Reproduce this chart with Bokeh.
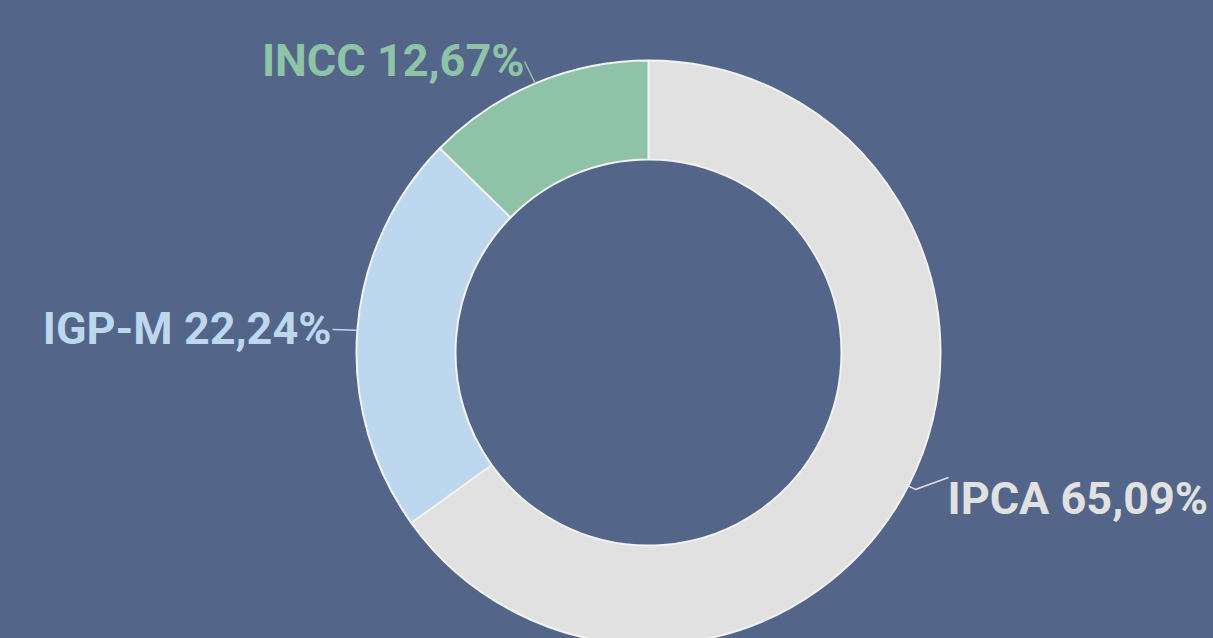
import math
from bokeh.plotting import figure
from bokeh.models import Range1d, ColumnDataSource
from bokeh.core.properties import value
from bokeh.embed import file_html
from bokeh.resources import INLINE

labels = ["IPCA", "IGP-M", "INCC"]
values = [65.09, 22.24, 12.67]
colors = ["#E1E1E1", "#BDD7EE", "#8FC3A8"]

W, H = 1213, 638
BG = "#536689"
cx, cy = 648, H - 352
r_out, r_in = 292, 193

p = figure(width=W, height=H, output_backend="svg", toolbar_location=None,
           x_range=Range1d(0, W), y_range=Range1d(0, H), min_border=0,
           background_fill_color=BG, border_fill_color=BG, outline_line_color=None)
p.axis.visible = False
p.grid.visible = False

total = sum(values)
starts, ends, mids = [], [], []
acc = 0.0
for v in values:
    a0 = math.pi / 2 - acc / total * 2 * math.pi
    acc += v
    a1 = math.pi / 2 - acc / total * 2 * math.pi
    starts.append(a0); ends.append(a1); mids.append((a0 + a1) / 2)

src = ColumnDataSource(dict(start=starts, end=ends, color=colors))
p.annular_wedge(x=cx, y=cy, inner_radius=r_in, outer_radius=r_out,
                start_angle="start", end_angle="end", direction="clock",
                fill_color="color", line_color="#F2F2F2", line_width=2, source=src)

texts = [f"{l} {v:.2f}%".replace(".", ",") for l, v in zip(labels, values)]
# (elbow offset along radius, label end x, label end y, text x, text baseline y, align)
layout = [
    (8, 948, 477, 947, 498, "left"),
    (0, 332, 329, 331, 328, "right"),
    (0, 524, 61, 524, 60, "right"),
]
for i, (m, (dr, lx, ly, tx, ty, align)) in enumerate(zip(mids, layout)):
    x0 = cx + r_out * math.cos(m)
    y0 = cy + r_out * math.sin(m)
    xs = [x0]; ys = [y0]
    if dr:
        xs.append(cx + (r_out + dr) * math.cos(m)); ys.append(cy + (r_out + dr) * math.sin(m))
    xs.append(lx); ys.append(H - ly)
    p.line(xs, ys, line_color=colors[i], line_width=1.5)
    p.text(x=[tx], y=[H - ty], text=[texts[i]], text_color=colors[i],
           text_font=value("Roboto"), text_font_style="bold", text_font_size="45px",
           text_align=align, text_baseline="alphabetic")

html = file_html(p, INLINE)
html = html.replace("<head>", f"<head><style>html,body{{margin:0;padding:0;background:{BG};overflow:hidden}}</style>", 1)
open("out.html", "w").write(html)
